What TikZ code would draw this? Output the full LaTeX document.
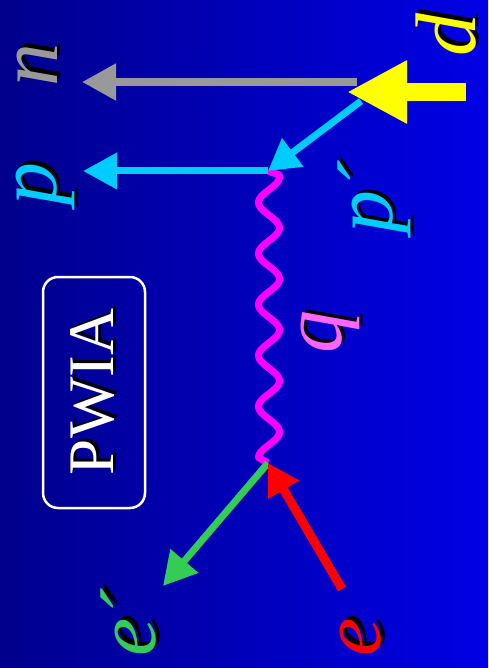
\documentclass[tikz,border=0pt]{standalone}
\usepackage{fontspec}
\setmainfont{Liberation Serif}
\usetikzlibrary{arrows.meta}
\definecolor{bgL}{RGB}{0,0,140}
\definecolor{bgR}{RGB}{0,0,230}
\definecolor{cgray}{RGB}{153,153,153}
\definecolor{ccyan}{RGB}{0,204,255}
\definecolor{cgreen}{RGB}{51,204,85}
\definecolor{cpink}{RGB}{255,102,255}
\definecolor{cmag}{RGB}{255,0,255}
\definecolor{cyel}{RGB}{255,255,0}
\definecolor{cred}{RGB}{255,0,0}
\newcommand{\shlbl}[5]{%
  \node[lbl,text=black] (#1s) at ({#2+3.5},{#3-3.5}) {#5};
  \node[lbl,text=#4] (#1) at (#2,#3) {#5};}
\newcommand{\prm}{\raisebox{-5pt}{´}}
\begin{document}
\begin{tikzpicture}[x=1pt,y=-1pt,
  lbl/.style={rotate=90,inner sep=0pt,font=\fontsize{86}{86}\selectfont\itshape},
  plbl/.style={rotate=90,inner sep=0pt,font=\fontsize{65}{65}\selectfont},
  particle/.style={line cap=butt},
  thin head/.style={-{Triangle[length=34pt,width=35pt]}},
  photon/.style={draw=cmag,line width=7pt,line join=round}]
\useasboundingbox (0,0) rectangle (488,668);
\shade[left color=bgL,right color=bgR] (0,0) rectangle (488,668);

% vertices and free ends
\coordinate (v1) at (268,171);
\coordinate (v2) at (268,463);
\coordinate (dS) at (466,92);
\coordinate (dT) at (347,92);
\coordinate (ppS) at (361,101);
\coordinate (nS) at (357,82);
\coordinate (nT) at (82,82);
\coordinate (pT) at (83,171);
\coordinate (eoT) at (163,586);
\coordinate (eS) at (342,589);

% photon
\draw[photon] (v1) -- plot[variable=\t,domain=175:457.5,samples=160,smooth]
  ({269+10.5*cos((\t-177)*7.0588)},\t) -- (v2);

% lines
\draw[particle,thin head,line width=8pt,cgray] (nS) -- (nT);
\draw[particle,thin head,line width=7pt,ccyan] (v1) -- (pT);
\draw[particle,-{Triangle[length=31pt,width=34pt]},line width=7pt,ccyan] (ppS) -- (v1);
\draw[particle,-{Triangle[length=33pt,width=35pt]},line width=7pt,cgreen] (v2) -- (eoT);
\draw[particle,-{Triangle[length=31pt,width=34pt]},line width=9pt,cred] (eS) -- (v2);
\draw[particle,-{Triangle[length=60pt,width=59pt]},line width=18pt,cyel] (dS) -- (dT);

% labels
\shlbl{dL}{446}{35}{cyel}{d}
\shlbl{nL}{37}{65}{cgray}{n}
\shlbl{pL}{45}{184}{ccyan}{p}
\shlbl{ppL}{374}{198}{ccyan}{p\prm}
\shlbl{qL}{330}{332}{cpink}{q}
\shlbl{eoL}{131}{623}{cgreen}{e\prm}
\shlbl{eL}{361}{637}{cred}{e}

% PWIA box
\node[draw=white,line width=2.5pt,rounded corners=15pt,minimum width=102pt,
  minimum height=231pt,inner sep=0pt] (box) at (94,392.5) {};
\node[plbl,text=black] (pwias) at (95.5,389) {PWIA};
\node[plbl,text=white] (pwia) at (92.5,392) {PWIA};
\end{tikzpicture}
\end{document}
